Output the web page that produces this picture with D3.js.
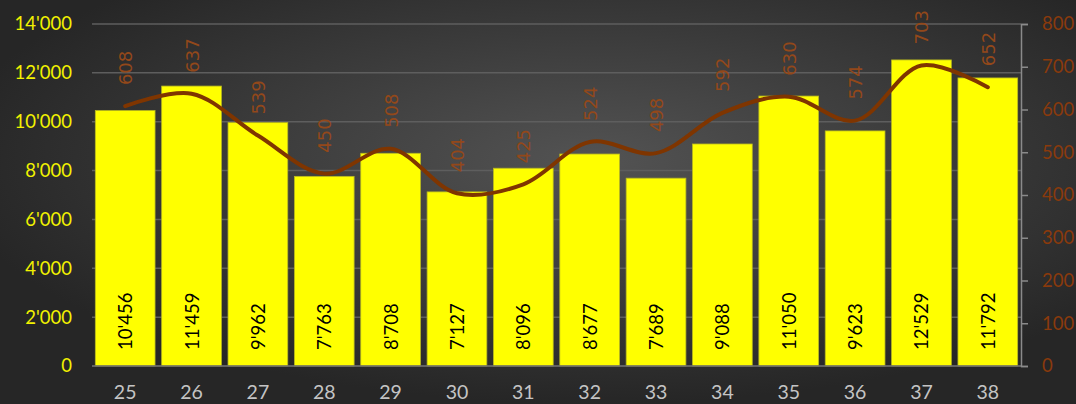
<!DOCTYPE html>
<html><head><meta charset="utf-8">
<script src="https://cdn.jsdelivr.net/npm/d3@7"></script>
<style>html,body{margin:0;padding:0;background:#333;}svg{display:block;}</style>
</head><body>
<svg id="c" width="1076" height="404"></svg>
<script>
const categories = ["25","26","27","28","29","30","31","32","33","34","35","36","37","38"];
const barValues = [10456, 11459, 9962, 7763, 8708, 7127, 8096, 8677, 7689, 9088, 11050, 9623, 12529, 11792];
const lineValues = [608, 637, 539, 450, 508, 404, 425, 524, 498, 592, 630, 574, 703, 652];
const leftTicks = [0, 2000, 4000, 6000, 8000, 10000, 12000, 14000];
const rightTicks = [0, 100, 200, 300, 400, 500, 600, 700, 800];

const W = 1076, H = 404;
const m = {left: 92, right: 55, top: 24, bottom: 38};
const svg = d3.select("#c");
const font = "Lato, 'Open Sans', sans-serif";

const defs = svg.append("defs");
const rg = defs.append("radialGradient").attr("id","bg").attr("cx","55%").attr("cy","40%").attr("r","60%");
rg.append("stop").attr("offset","0%").attr("stop-color","#535353");
rg.append("stop").attr("offset","100%").attr("stop-color","#262626");
svg.append("rect").attr("width",W).attr("height",H).attr("fill","url(#bg)");

const loc = d3.formatLocale({decimal:".", thousands:"'", grouping:[3], currency:["",""]});
const fmt = loc.format(",d");

const x = d3.scaleBand().domain(categories).range([m.left, W - m.right]).paddingInner(0.1).paddingOuter(0.05);
const y = d3.scaleLinear().domain([0, 14000]).range([H - m.bottom, m.top]);
const y2 = d3.scaleLinear().domain([0, 800]).range([H - m.bottom, m.top]);

// gridlines
svg.append("g").selectAll("line").data(leftTicks).join("line")
  .attr("x1", m.left).attr("x2", W - m.right)
  .attr("y1", d => y(d)).attr("y2", d => y(d))
  .attr("stroke", "#5e5e5e").attr("stroke-width", 1.5);

// bars
svg.append("g").selectAll("rect").data(barValues).join("rect")
  .attr("x", (d,i) => x(categories[i]))
  .attr("width", x.bandwidth())
  .attr("y", d => y(d))
  .attr("height", d => y(0) - y(d))
  .attr("fill", "#ffff00").attr("stroke", "#b8b820").attr("stroke-width", 0.8);

// bar labels
svg.append("g").selectAll("text").data(barValues).join("text")
  .attr("transform", (d,i) => `translate(${x(categories[i]) + x.bandwidth()/2 + 7},${y(0) - 16}) rotate(-90)`)
  .attr("text-anchor", "start")
  .attr("font-family", font).attr("font-size", 18.5).attr("fill", "#000")
  .text(d => fmt(d));

// bottom axis line
svg.append("line").attr("x1", m.left).attr("x2", W - m.right)
  .attr("y1", y(0)).attr("y2", y(0)).attr("stroke", "#6a6a6a").attr("stroke-width", 1.5);

// left axis
const gl = svg.append("g").attr("transform", `translate(${m.left - 20},0)`)
  .call(d3.axisLeft(y).tickValues(leftTicks).tickFormat(d => fmt(d)).tickSize(0).tickPadding(0));
gl.select(".domain").remove();
gl.selectAll("text").attr("font-family", font).attr("font-size", 18.5).attr("fill", "#f2f200");

// right axis
const gr = svg.append("g").attr("transform", `translate(${W - m.right},0)`)
  .call(d3.axisRight(y2).tickValues(rightTicks).tickSize(7).tickPadding(14));
gr.select(".domain").attr("stroke", "#8a8a8a").attr("stroke-width", 1.5);
gr.selectAll(".tick line").attr("stroke", "#8a8a8a").attr("stroke-width", 1.5);
gr.selectAll("text").attr("font-family", font).attr("font-size", 18.5).attr("fill", "#8a3a0c");

// bottom labels
const gb = svg.append("g").attr("transform", `translate(0,${y(0)})`)
  .call(d3.axisBottom(x).tickSize(0).tickPadding(19));
gb.select(".domain").remove();
gb.selectAll("text").attr("font-family", font).attr("font-size", 19.5).attr("fill", "#c4c4c4");

// line
const line = d3.line()
  .x((d,i) => x(categories[i]) + x.bandwidth()/2)
  .y(d => y2(d))
  .curve(d3.curveCatmullRom.alpha(0.5));
svg.append("path").datum(lineValues).attr("d", line)
  .attr("fill", "none").attr("stroke", "#7f3500").attr("stroke-width", 4).attr("stroke-linecap", "round");

// line labels
svg.append("g").selectAll("text").data(lineValues).join("text")
  .attr("transform", (d,i) => `translate(${x(categories[i]) + x.bandwidth()/2 + 7},${y2(d) - 21}) rotate(-90)`)
  .attr("text-anchor", "start")
  .attr("font-family", "'DejaVu Sans', sans-serif").attr("font-size", 18).attr("fill", "#93481a")
  .text(d => d);
</script>
</body></html>
